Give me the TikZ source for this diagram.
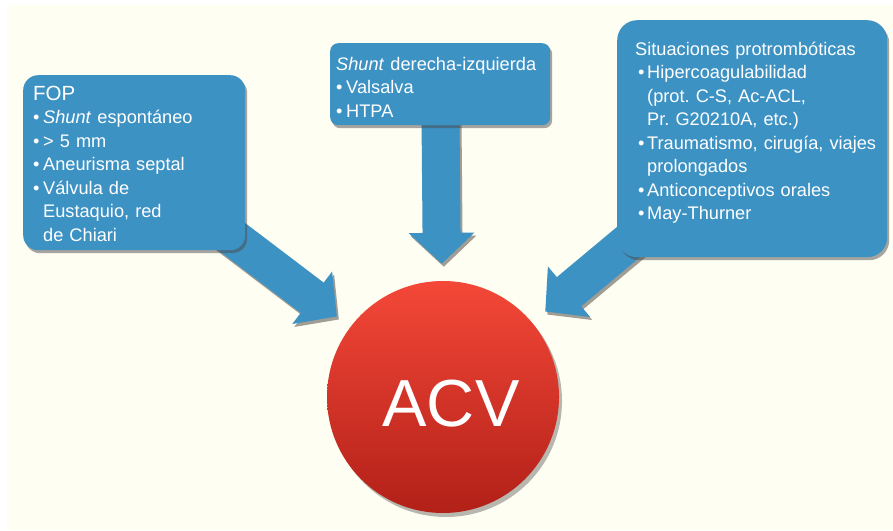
\documentclass[tikz,border=0pt]{standalone}
\usepackage{fontspec}
\setmainfont{Liberation Sans}
\usetikzlibrary{arrows.meta,shadows,backgrounds}

\definecolor{cream}{RGB}{255,254,242}
\definecolor{boxblue}{RGB}{61,146,196}
\definecolor{arrowshade}{RGB}{160,157,148}
\definecolor{acvtop}{RGB}{244,72,56}
\definecolor{acvbottom}{RGB}{178,32,24}

\newcommand{\bul}[1][10pt]{\makebox[#1][l]{\textbullet}}
\newcommand{\ind}[1][10pt]{\hspace*{#1}}

\tikzstyle{boxstyle} = [anchor=north west, rectangle, rounded corners=15pt, fill=boxblue, text=white, align=left, inner ysep=0, font=\fontsize{18.2}{23.5}\selectfont\frenchspacing, drop shadow={shadow xshift=2pt, shadow yshift=-3pt, opacity=0.5, fill=black!70}]
\tikzstyle{fatarrow} = [color=boxblue, line width=38pt, -{Triangle[width=64pt, length=31pt]}, shorten >=17pt]
\tikzstyle{acvstyle} = [circle, minimum size=232pt, inner sep=0, top color=acvtop, bottom color=acvbottom, text=white, font=\fontsize{66.6}{70}\selectfont, text height=58pt, text depth=0pt, drop shadow={shadow xshift=3pt, shadow yshift=-4pt, opacity=0.4, fill=black!70}]

\begin{document}
\begin{tikzpicture}[x=1pt, y=1pt]
  \useasboundingbox (0,0) rectangle (893,530);

  \node at (23,455) [boxstyle, text width=202pt, inner xsep=10pt, text height=25pt, text depth=150pt] (fop)
    {{\fontsize{20.5}{23.5}\selectfont FOP}\\
     \bul\textit{Shunt} espontáneo\\
     \bul> 5 mm\\
     \bul Aneurisma septal\\
     \bul Válvula de\\
     \ind Eustaquio, red\\
     \ind de Chiari};

  \node at (330,487) [boxstyle, rounded corners=8pt, text width=208pt, inner xsep=6pt, text height=27pt, text depth=55pt] (shunt)
    {\textit{Shunt} derecha-izquierda\\
     \bul Valsalva\\
     \bul HTPA};

  \node at (617,510) [boxstyle, rounded corners=20pt, text width=264pt, inner xsep=3pt, text height=35pt, text depth=202pt] (proto)
    {\ind[15pt]Situaciones protrombóticas\\
     \ind[18pt]\bul[9pt]Hipercoagulabilidad\\
     \ind[27pt](prot. C-S, Ac-ACL,\\
     \ind[27pt]Pr. G20210A, etc.)\\
     \ind[18pt]\bul[9pt]Traumatismo, cirugía, viajes\\
     \ind[27pt]prolongados\\
     \ind[18pt]\bul[9pt]Anticonceptivos orales\\
     \ind[18pt]\bul[9pt]May-Thurner};

  \node at (443,133) [acvstyle] (acv) {\hspace*{16pt}ACV};

  \begin{scope}[on background layer]
    \fill[white] (0,0) rectangle (893,530);
    \fill[cream] (7,0) rectangle (893,525);
    % arrow shadows
    \begin{scope}[transform canvas={shift={(2,-3)}}]
      \path[fatarrow, color=arrowshade]
        (fop.center) edge (acv)
        (shunt.center) edge (acv)
        (proto.center) edge (acv);
    \end{scope}
    \path[fatarrow]
      (fop.center) edge (acv)
      (shunt.center) edge (acv)
      (proto.center) edge (acv);
  \end{scope}
\end{tikzpicture}
\end{document}
